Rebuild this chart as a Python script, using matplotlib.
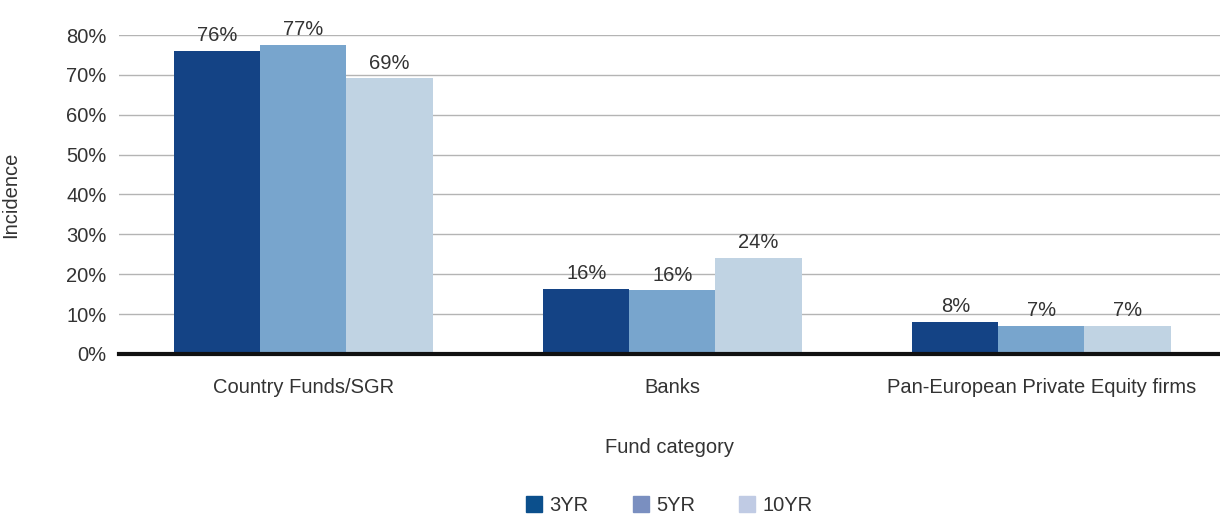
import numpy as np
import matplotlib.pyplot as plt
from matplotlib.patches import Patch

plt.rcParams['font.family'] = ['Liberation Sans', 'DejaVu Sans']

categories = ['Country Funds/SGR', 'Banks', 'Pan-European Private Equity firms']
series = ['3YR', '5YR', '10YR']
values = {
    '3YR': [76.0, 16.3, 8.0],
    '5YR': [77.5, 16.0, 7.0],
    '10YR': [69.2, 24.1, 7.0],
}
labels = {
    '3YR': ['76%', '16%', '8%'],
    '5YR': ['77%', '16%', '7%'],
    '10YR': ['69%', '24%', '7%'],
}
bar_colors = ['#144385', '#78a5cd', '#c0d3e3']
legend_colors = ['#0b4f8c', '#7a8fc0', '#c0cbe4']
txt = '#333333'
fs = 14.5

fig = plt.figure(figsize=(12.2, 5.19), dpi=100)
ax = fig.add_axes([0.0975, 0.318, 0.9025, 0.6145])

x = np.arange(len(categories))
w = 0.7 / 3
for i, s in enumerate(series):
    pos = x + (i - 1) * w
    ax.bar(pos, values[s], w, color=bar_colors[i], zorder=2)
    for p, v, l in zip(pos, values[s], labels[s]):
        ax.text(p, v + 1.4, l, ha='center', va='bottom', fontsize=fs, color=txt, zorder=3)

ax.set_xlim(-0.5, 2.484)
ax.set_ylim(0, 80)
ax.set_yticks(np.arange(0, 81, 10))
ax.set_yticklabels([f'{t}%' for t in range(0, 81, 10)])
ax.set_xticks(x)
ax.set_xticklabels(categories)
ax.yaxis.grid(True, color='#b4b4b4', linewidth=1, zorder=0)
ax.set_axisbelow(True)
for sp in ['top', 'right', 'left']:
    ax.spines[sp].set_visible(False)
ax.spines['bottom'].set_linewidth(3)
ax.spines['bottom'].set_color('#111111')
ax.spines['bottom'].set_zorder(4)
ax.tick_params(axis='both', length=0, labelsize=fs, labelcolor=txt)
ax.tick_params(axis='x', pad=17)
ax.tick_params(axis='y', pad=9)
ax.set_xlabel('Fund category', fontsize=fs, color=txt, labelpad=30)
ax.set_ylabel('Incidence', fontsize=fs, color=txt, labelpad=33)

handles = [Patch(color=c) for c in legend_colors]
ax.legend(handles, series, loc='center', bbox_to_anchor=(0.5, -0.475), ncol=3,
          frameon=False, fontsize=fs, handlelength=0.8, handleheight=0.8,
          handletextpad=0.35, columnspacing=2.2, labelcolor=txt)

fig.savefig('out.png')
